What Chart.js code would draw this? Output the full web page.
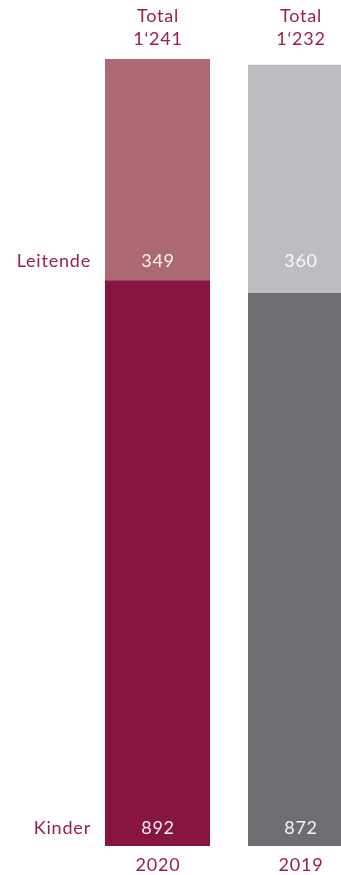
<!DOCTYPE html>
<html>
<head>
<meta charset="utf-8">
<script src="https://cdn.jsdelivr.net/npm/chart.js@4"></script>
<style>
  html, body { margin: 0; padding: 0; background: #fff; overflow: hidden; }
  #wrap { width: 380px; height: 875px; }
</style>
</head>
<body>
<div id="wrap"><canvas id="myChart" width="380" height="875"></canvas></div>
<script>
const years = ["2020", "2019"];
const kinder = [892, 872];
const leitende = [349, 360];
const rowLabels = ["Kinder", "Leitende"];
const kinderColors = ["#86153f", "#6d6e72"];
const leitendeColors = ["#ad6971", "#bcbdc1"];
const textColor = "#9a1f4c";
const fontFamily = "'Lato', 'Open Sans', sans-serif";

function fmt(n) {
  const s = String(n);
  return s.length > 3 ? s.slice(0, s.length - 3) + "\u2018" + s.slice(-3) : s;
}

const labelPlugin = {
  id: "labels",
  afterDatasetsDraw(chart) {
    const ctx = chart.ctx;
    const x = chart.scales.x;
    const y = chart.scales.y;
    ctx.save();
    ctx.font = "18px " + fontFamily;
    ctx.letterSpacing = "0.8px";
    ctx.textBaseline = "alphabetic";

    const kinderY = y.getPixelForValue(0) - 12;
    const leitY = y.getPixelForValue(kinder[0]) - 13;

    // row labels on the left
    ctx.fillStyle = textColor;
    ctx.textAlign = "right";
    ctx.fillText(rowLabels[0], 91, kinderY);
    ctx.fillText(rowLabels[1], 91, leitY);

    years.forEach(function (yr, i) {
      const cx = x.getPixelForValue(i) + 0.5;
      const total = kinder[i] + leitende[i];
      ctx.textAlign = "center";
      ctx.fillStyle = textColor;
      ctx.fillText("Total", cx, 22);
      ctx.fillText(fmt(total), cx, 45);
      ctx.fillText(yr, cx, 871);
      ctx.fillStyle = "rgba(255,255,255,0.92)";
      ctx.fillText(String(kinder[i]), cx, kinderY);
      ctx.fillText(String(leitende[i]), cx, leitY);
    });
    ctx.restore();
  }
};

const ctx = document.getElementById("myChart");

const data = {
  labels: years,
  datasets: [
    {
      label: rowLabels[0],
      data: kinder,
      backgroundColor: kinderColors,
      borderWidth: 0,
    },
    {
      label: rowLabels[1],
      data: leitende,
      backgroundColor: leitendeColors,
      borderWidth: 0,
    },
  ],
};

const config = {
  type: "bar",
  data: data,
  options: {
    responsive: false,
    animation: false,
    layout: {
      padding: { left: 86, right: 8, top: 59, bottom: 29 },
    },
    datasets: {
      bar: { categoryPercentage: 105 / 143, barPercentage: 1 },
    },
    plugins: {
      legend: { display: false },
      tooltip: { enabled: false },
    },
    scales: {
      x: { stacked: true, display: false },
      y: { stacked: true, display: false, min: 0, max: 1241 },
    },
  },
  plugins: [labelPlugin],
};
new Chart(ctx, config);
</script>
</body>
</html>
